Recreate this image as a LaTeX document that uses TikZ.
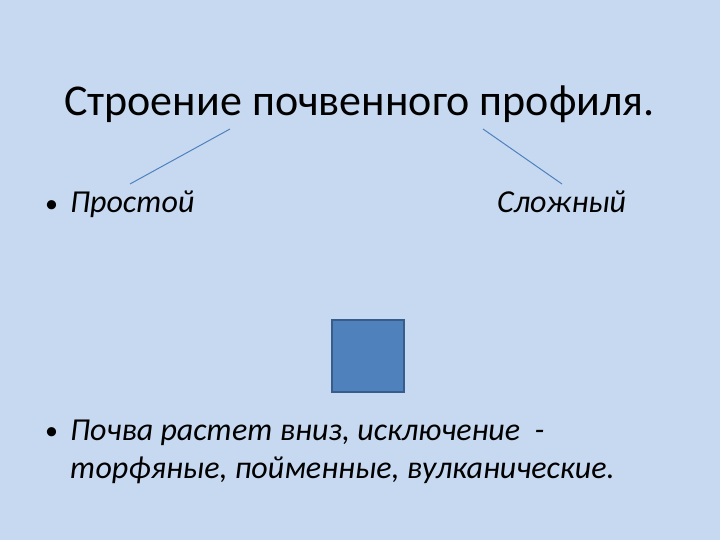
\documentclass[tikz,border=0pt]{standalone}
\usepackage{fontspec}
\setmainfont{Carlito}
\usepackage{xcolor}
\definecolor{slidebg}{HTML}{C6D9F1}
\definecolor{accent}{HTML}{4F81BD}
\definecolor{accentdark}{HTML}{385D8A}
\tikzset{
	title/.style={anchor=base west, inner sep=0pt, font=\fontsize{44}{53}\selectfont},
	item/.style={anchor=base west, inner sep=0pt, font=\fontsize{32}{38}\selectfont\itshape},
	dot/.style={anchor=base west, inner sep=0pt, font=\fontsize{26}{30}\selectfont},
	link/.style={draw=accent, line width=1pt},
	block/.style={draw=accentdark, fill=accent, line width=1.5pt, minimum size=72pt, inner sep=0pt}
}
\begin{document}
\begin{tikzpicture}[x=1pt,y=-1pt]
\fill[slidebg] (0,0) rectangle (720,540);
\useasboundingbox (0,0) rectangle (720,540);
\node[title] (head) at (64,116) {Строение почвенного профиля.};
\node[dot] (b1) at (45,212) {•};
\node[item] (simple) at (70,213) {Простой};
\node[item] (complex) at (497,213) {Сложный};
\coordinate (l1) at (230,129);
\coordinate (l2) at (130,184);
\coordinate (r1) at (483,129);
\coordinate (r2) at (562,184);
\draw[link] (l1) -- (l2);
\draw[link] (r1) -- (r2);
\node[block] (sq) at (368,356) {};
\node[dot] (b2) at (45,439) {•};
\node[item] (note1) at (70,440) {Почва растет вниз, исключение\ \ -};
\node[item] (note2) at (70,478) {торфяные, пойменные, вулканические.};
\end{tikzpicture}
\end{document}
